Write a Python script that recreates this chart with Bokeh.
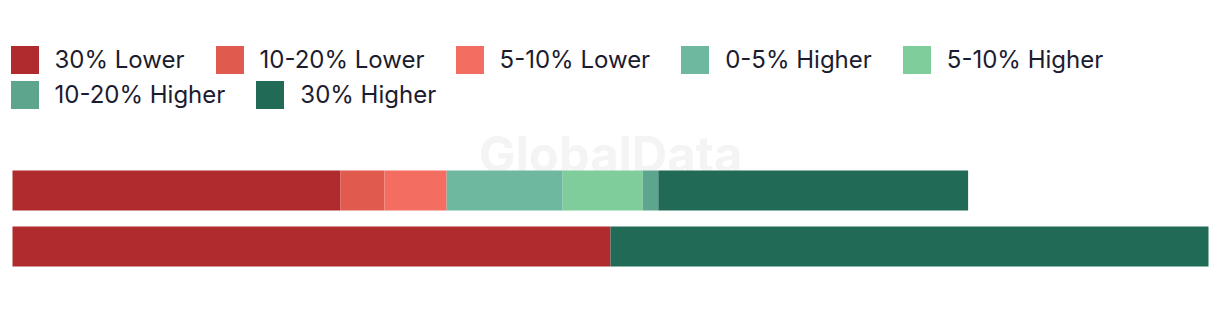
from bokeh.plotting import figure
from bokeh.models import Range1d, Legend, LegendItem, ColumnDataSource
from bokeh.core.properties import value
from bokeh.embed import file_html
from bokeh.resources import INLINE

# ---- data ----
categories = ["A", "B"]  # bar 1 (top), bar 2 (bottom)
series = ["30% Lower", "10-20% Lower", "5-10% Lower", "0-5% Higher",
          "5-10% Higher", "10-20% Higher", "30% Higher"]
bar1_values = [27.4, 3.7, 5.2, 9.7, 6.7, 1.3, 25.9]
bar2_values = [50.0, 0.0, 0.0, 0.0, 0.0, 0.0, 50.0]
colors = ["#AF2B2D", "#E05A4E", "#F46D61", "#6FB8A0",
          "#7FCD9A", "#5EA58D", "#216A56"]

W, H = 1220, 310
left_px, right_px = 12, 1208
units_per_px = 100.0 / (right_px - left_px)
x0 = -left_px * units_per_px
x1 = 100 + (W - right_px) * units_per_px

# y: bar centers at pixel 190 (top bar) and 246 (bottom bar), 56 px apart
ypos = [1.0, 0.0]
y_top = 1 + 190 / 56.0
y_bot = 0 - (H - 246) / 56.0

p = figure(width=W, height=H, output_backend="svg", toolbar_location=None,
           x_range=Range1d(x0, x1), y_range=Range1d(y_bot, y_top),
           min_border=0, min_border_left=0, min_border_right=0,
           min_border_top=0, min_border_bottom=0)
p.axis.visible = False
p.grid.visible = False
p.outline_line_color = None
p.background_fill_color = "white"
p.border_fill_color = "white"

# watermark
p.text(x=[(610 - left_px) * units_per_px], y=[1 + (190 - 154) / 56.0],
       text=["GlobalData"], text_font=value("Inter"), text_font_style="bold",
       text_font_size="49px", text_color="#F4F4F4", text_align="center",
       text_baseline="alphabetic")

data = {"y": ypos}
for i, s in enumerate(series):
    data[s] = [bar1_values[i], bar2_values[i]]
src = ColumnDataSource(data)

renderers = p.hbar_stack(series, y="y", height=40 / 56.0, color=colors,
                         source=src, line_color=None)

def make_legend(idx, loc):
    items = [LegendItem(label=series[i], renderers=[renderers[i]]) for i in idx]
    lg = Legend(items=items, orientation="horizontal", location=loc,
                glyph_width=35, glyph_height=35, label_standoff=13, spacing=27,
                padding=0, margin=0, border_line_alpha=0,
                background_fill_alpha=0, label_text_font="Inter",
                label_text_font_size="24px", label_text_color="#1C1C30",
                label_height=35)
    return lg

p.add_layout(make_legend([0, 1, 2, 3, 4], (6.5, H - 76.5)))
p.add_layout(make_legend([5, 6], (6.5, H - 111.5)))

open("out.html", "w").write(file_html(p, INLINE))
